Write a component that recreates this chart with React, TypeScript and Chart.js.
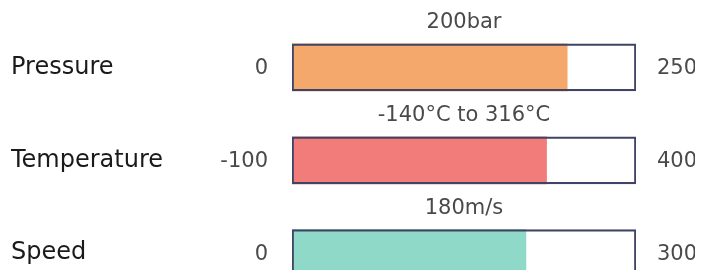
import React, { useEffect, useRef } from "react";
import { Chart, registerables } from "chart.js";

Chart.register(...registerables);

const categories = ["Pressure", "Temperature", "Speed"];
const titles = ["200bar", "-140°C to 316°C", "180m/s"];
const minValues = [0, -100, 0];
const maxValues = [250, 400, 300];
const values = [200, 270, 204];
const fillColors = ["#F5A86C", "#F27C79", "#8FD9C8"];

const NUM_FONT = { family: "'DejaVu Sans', sans-serif", size: 21, weight: "normal" as const };

const gaugeText = {
  id: "gaugeText",
  afterDraw(chart: any) {
    const ctx = chart.ctx;
    const yScale = chart.scales.y;
    ctx.save();
    ctx.font = `${NUM_FONT.weight} ${NUM_FONT.size}px ${NUM_FONT.family}`;
    ctx.fillStyle = "#4a4a4a";
    ctx.textBaseline = "middle";
    categories.forEach((_, i) => {
      const xs = chart.scales["x" + i];
      const y = yScale.getPixelForValue(i);
      const left = xs.getPixelForValue(minValues[i]);
      const right = xs.getPixelForValue(maxValues[i]);
      ctx.textAlign = "right";
      ctx.fillText(String(minValues[i]), left - 24, y + 1);
      ctx.textAlign = "left";
      ctx.fillText(String(maxValues[i]), right + 21, y + 1);
      ctx.textAlign = "center";
      ctx.fillText(titles[i], (left + right) / 2, y - 45);
    });
    ctx.restore();
  },
};

export default function App() {
  const ref = useRef<HTMLCanvasElement>(null);
  useEffect(() => {
    if (!ref.current) return;
    const datasets: any[] = [];
    const scales: any = {
      y: {
        type: "category",
        offset: true,
        grid: { display: false },
        border: { display: false },
        ticks: {
          crossAlign: "far",
          color: "#1a1a1a",
          font: { family: "'DejaVu Sans', sans-serif", size: 24 },
        },
        afterFit: (axis: any) => {
          axis.width = 281;
        },
      },
    };
    categories.forEach((_, i) => {
      const boxData = categories.map((__, j) => (j === i ? [minValues[i], maxValues[i]] : null));
      const fillData = categories.map((__, j) => (j === i ? [minValues[i], values[i]] : null));
      datasets.push({
        label: categories[i] + " range",
        data: boxData,
        xAxisID: "x" + i,
        backgroundColor: "rgba(255,255,255,0)",
        borderColor: "#3f4466",
        borderWidth: 1.5,
        borderSkipped: false,
        grouped: false,
        barThickness: 47,
        order: 0,
      });
      datasets.push({
        label: categories[i],
        data: fillData,
        xAxisID: "x" + i,
        backgroundColor: fillColors[i],
        borderWidth: 0,
        grouped: false,
        barThickness: 47,
        order: 1,
      });
      scales["x" + i] = {
        type: "linear",
        axis: "x",
        position: "bottom",
        min: minValues[i],
        max: maxValues[i],
        display: false,
      };
    });
    const chart = new Chart(ref.current, {
      type: "bar",
      data: { labels: categories, datasets },
      options: {
        indexAxis: "y",
        animation: false,
        responsive: false,
        layout: { padding: { left: 11, right: 67, top: 21, bottom: 8 } },
        plugins: { legend: { display: false }, tooltip: { enabled: false } },
        scales,
      } as any,
      plugins: [gaugeText],
    });
    return () => chart.destroy();
  }, []);
  return (
    <div style={{ margin: "-8px", width: 703, height: 278, overflow: "hidden", background: "#fff" }}>
      <canvas ref={ref} width={703} height={317} style={{ display: "block" }} />
    </div>
  );
}
